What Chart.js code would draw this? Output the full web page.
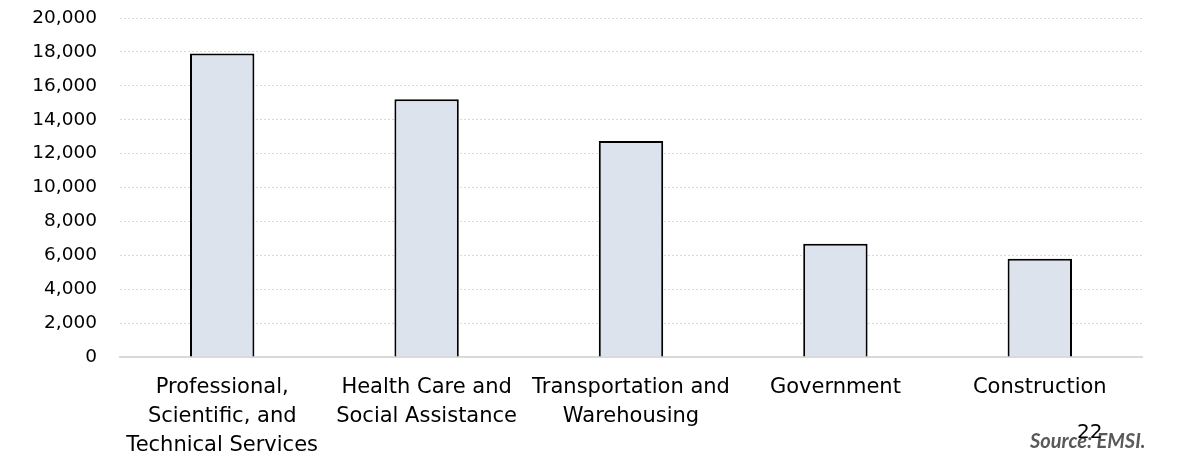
<!DOCTYPE html>
<html>
<head>
<meta charset="utf-8">
<script src="https://cdn.jsdelivr.net/npm/chart.js@4"></script>
<style>
    html, body { margin: 0; padding: 0; background: #fff; }
    #wrap { position: relative; width: 1184px; height: 458px; }
    #source { position: absolute; left: 1030px; top: 428px; font: italic bold 20px Lato, sans-serif; color: #595959; }
    #pageNum { position: absolute; left: 1077px; top: 419px; font: 20px "DejaVu Sans", sans-serif; color: #000; }
</style>
</head>
<body>
<div id="wrap">
    <canvas id="chartEmpleo" width="1184" height="458"></canvas>
    <div id="source">Source: EMSI.</div>
    <div id="pageNum">22</div>
</div>
<script>
const categorias = [
    ['Professional,', 'Scientific, and', 'Technical Services'],
    ['Health Care and', 'Social Assistance'],
    ['Transportation and', 'Warehousing'],
    ['Government'],
    ['Construction']
];
const empleos = [17900, 15200, 12750, 6680, 5800];
const ticksY = [0, 2000, 4000, 6000, 8000, 10000, 12000, 14000, 16000, 18000, 20000];

const fuente = '"DejaVu Sans", Verdana, sans-serif';

new Chart(document.getElementById('chartEmpleo'), {
    type: 'bar',
    data: {
        labels: categorias,
        datasets: [{
            data: empleos,
            backgroundColor: '#dce3ed',
            borderColor: '#000000',
            borderWidth: 2,
            barPercentage: 1,
            categoryPercentage: 0.315
        }]
    },
    options: {
        responsive: false,
        animation: false,
        layout: { padding: { top: 18, right: 42, left: 0, bottom: 0 } },
        plugins: {
            legend: { display: false },
            tooltip: { enabled: false }
        },
        scales: {
            x: {
                grid: { display: false },
                border: { display: true, color: '#d9d9d9', width: 2 },
                ticks: {
                    color: '#000',
                    font: { family: fuente, size: 21, lineHeight: 1.38 },
                    padding: 8,
                    maxRotation: 0,
                    autoSkip: false
                },
                afterFit: (scale) => { scale.height = 101; }
            },
            y: {
                min: 0,
                max: 20000,
                afterBuildTicks: (scale) => { scale.ticks = ticksY.map(v => ({ value: v })); },
                grid: { color: '#d9d9d9', lineWidth: 1, drawTicks: false },
                border: { display: false, dash: [2, 2] },
                ticks: {
                    color: '#000',
                    font: { family: fuente, size: 18.5 },
                    padding: 23,
                    callback: (v) => v.toLocaleString('en-US')
                },
                afterFit: (scale) => {
                    scale.width = 120;
                    scale.paddingTop = 0;
                    scale.paddingBottom = 0;
                }
            }
        }
    }
});
</script>
</body>
</html>
